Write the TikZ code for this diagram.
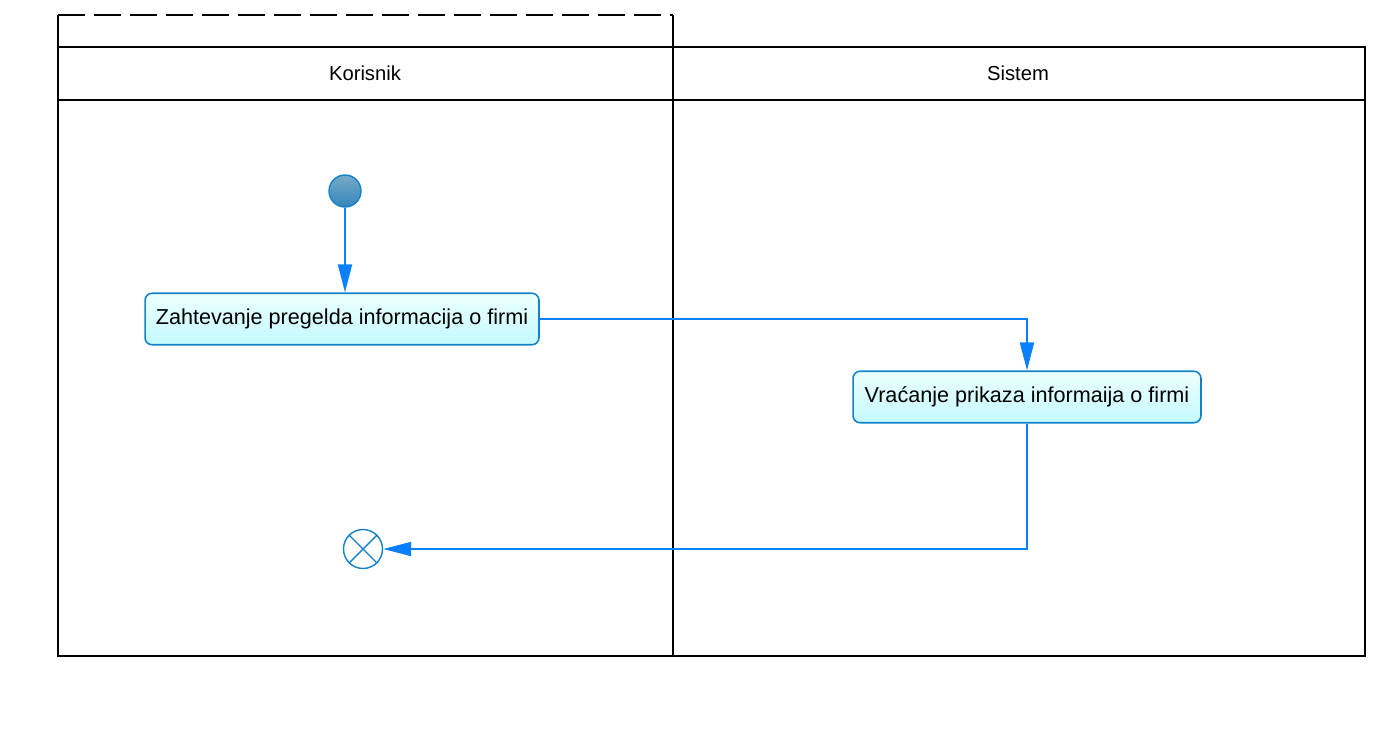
\documentclass[tikz,border=0pt]{standalone}
\usepackage{fontspec}
\setmainfont{Liberation Sans}
\usepackage{tikz}
\usetikzlibrary{shapes.geometric, arrows.meta, positioning}
\definecolor{flowblue}{RGB}{10,128,255}
\definecolor{boxline}{RGB}{20,130,200}
\definecolor{boxtop}{RGB}{236,255,255}
\definecolor{boxbottom}{RGB}{196,250,255}
\tikzstyle{lane} = [draw=black, line width=1.1pt]
\tikzstyle{flow} = [draw=flowblue, line width=1.1pt, -{Triangle[length=0.56cm, width=0.28cm]}]
\tikzstyle{action} = [rectangle, rounded corners=4pt, draw=boxline, line width=0.9pt, top color=boxtop, bottom color=boxbottom, text centered, font=\fontsize{12.3}{14}\selectfont, minimum height=1.03cm]
\tikzstyle{startnode} = [circle, draw=boxline, line width=0.8pt, top color={rgb,255:red,120;green,170;blue,200}, bottom color={rgb,255:red,50;green,135;blue,185}, minimum size=0.64cm, inner sep=0pt]
\tikzstyle{endnode} = [circle, draw=boxline, line width=0.8pt, fill=white, minimum size=0.78cm, inner sep=0pt]
\begin{document}
\begin{tikzpicture}[x=0.02cm, y=-0.02cm]
  \useasboundingbox (0,0) rectangle (1396,734);

  % Swimlanes
  \draw[lane, dash pattern=on 0.54cm off 0.18cm] (58,15) -- (673,15);
  \draw[lane] (58,15) -- (58,656) -- (1365,656) -- (1365,47) -- (58,47);
  \draw[lane] (58,100) -- (1365,100);
  \draw[lane] (673,15) -- (673,656);
  \node (korisnik) at (365,73) {\fontsize{11.5}{13}\selectfont Korisnik};
  \node (sistem) at (1018,73) {\fontsize{11.5}{13}\selectfont Sistem};

  % Nodes
  \node (start) [startnode] at (345,191) {};
  \node (zahtev) [action, minimum width=7.88cm] at (342,319) {Zahtevanje pregelda informacija o firmi};
  \node (vracanje) [action, minimum width=6.96cm] at (1027,397) {Vraćanje prikaza informaija o firmi};
  \node (end) [endnode] at (363,549) {};
  \draw[boxline, line width=0.8pt] (end.45) -- (end.225) (end.135) -- (end.315);

  % Arrows
  \draw[flow] (start) -- (start |- zahtev.north);
  \draw[flow] (zahtev.east) -| (vracanje.north);
  \draw[flow] (vracanje.south) |- (end.east);

\end{tikzpicture}
\end{document}
